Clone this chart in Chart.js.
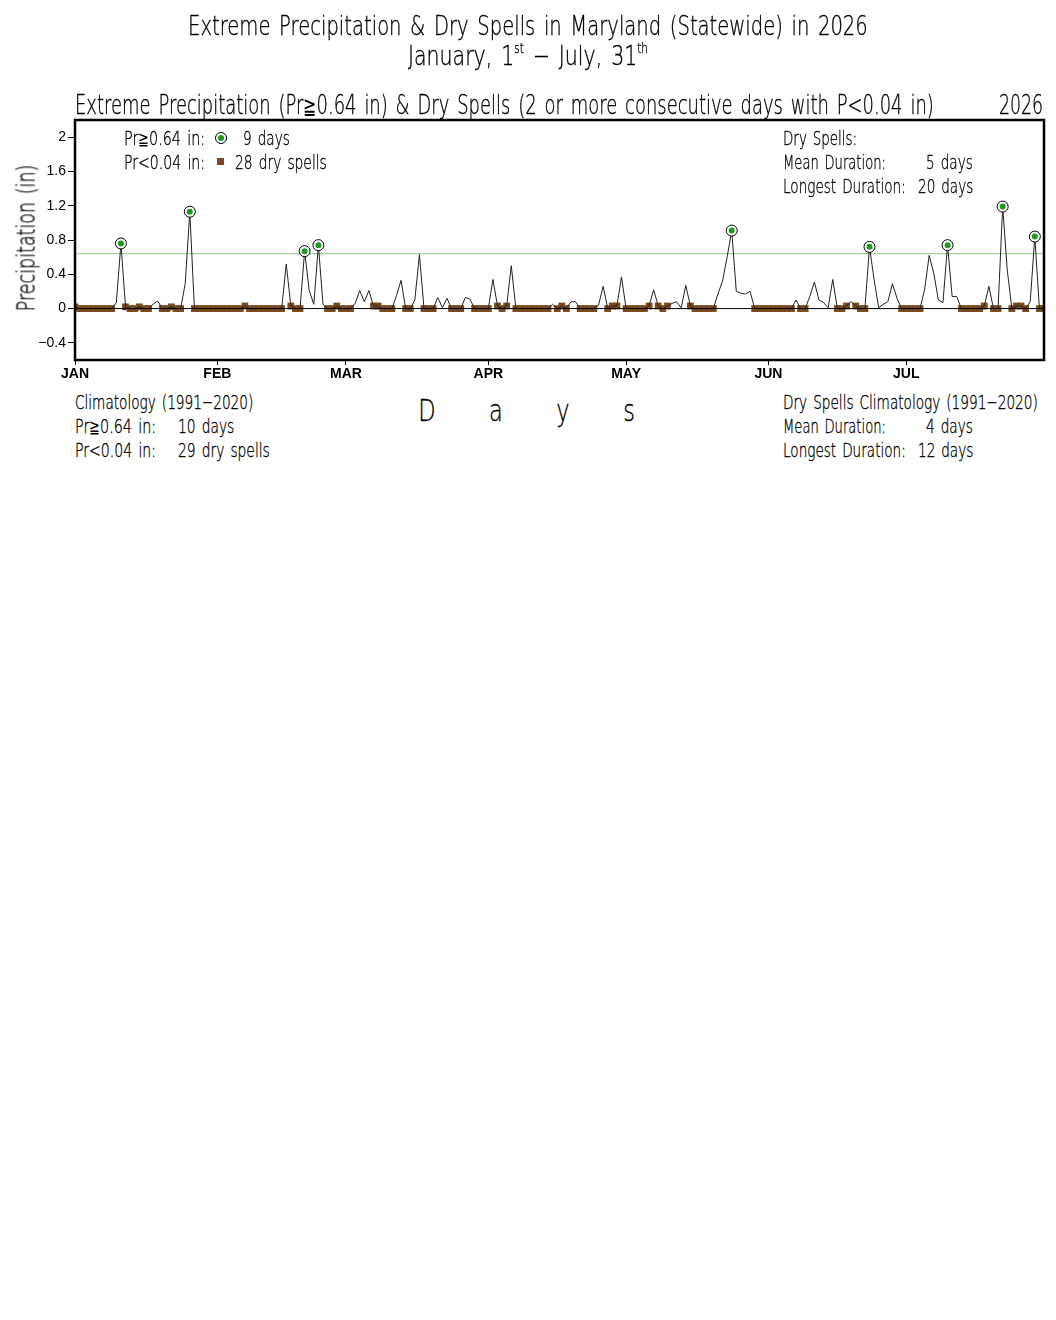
<!DOCTYPE html>
<html>
<head>
<meta charset="utf-8">
<script src="https://cdn.jsdelivr.net/npm/chart.js@4.4.1/dist/chart.umd.min.js"></script>
<style>
  html, body { margin: 0; padding: 0; background: #fff; }
  #page { position: relative; width: 1056px; height: 1320px; overflow: hidden; }
  #box { position: absolute; left: 0; top: 0; width: 1056px; height: 390px; }
  .t { position: absolute; white-space: nowrap; font-family: 'DejaVu Sans', sans-serif; font-weight: 200;
       color: #000; -webkit-text-stroke: 0.35px #000; transform-origin: left center; word-spacing: 0.12em; }
  .t sup { font-size: 0.5em; vertical-align: 0.9em; line-height: 0; }
  .t .ge { font-weight: 200; font-size: 0.9em; -webkit-text-stroke: 0; }
  .mk { position: absolute; box-sizing: border-box; }
</style>
</head>
<body>
<div id="page">
  <div id="box"><canvas id="chart"></canvas></div>
</div>
<script>
// daily statewide precipitation (in), Jan 1 .. Jul 31 2026
var precip = [
  0.02, 0, 0, 0, 0, 0, 0, 0, 0, 0.07,          // Jan 1-10
  0.76, 0.02, 0, 0, 0.02, 0, 0, 0.05, 0.09, 0,  // Jan 11-20
  0, 0.02, 0, 0, 0.29, 1.13, 0, 0, 0, 0,        // Jan 21-30
  0, 0, 0, 0, 0, 0, 0, 0.03, 0, 0,              // Jan 31 - Feb 9
  0, 0, 0, 0, 0, 0, 0.52, 0.03, 0, 0,           // Feb 10-19
  0.67, 0.21, 0.05, 0.74, 0.05, 0, 0, 0.03, 0, 0, // Feb 20 - Mar 1
  0, 0.06, 0.21, 0.08, 0.21, 0.03, 0.03, 0, 0, 0, // Mar 2-11
  0.15, 0.33, 0, 0, 0.1, 0.63, 0, 0, 0, 0.13,   // Mar 12-21
  0.01, 0.12, 0, 0, 0, 0.13, 0.11, 0, 0, 0,     // Mar 22-31
  0, 0.34, 0.03, 0, 0.03, 0.5, 0, 0, 0, 0,      // Apr 1-10
  0, 0, 0, 0, 0.05, 0, 0.03, 0, 0.08, 0.08,     // Apr 11-20
  0, 0, 0, 0, 0.04, 0.26, 0, 0.03, 0.03, 0.37,  // Apr 21-30
  0, 0, 0, 0, 0, 0.03, 0.22, 0.03, 0, 0.03,     // May 1-10
  0.06, 0.08, 0.01, 0.27, 0.03, 0, 0, 0, 0, 0,  // May 11-20
  0.17, 0.32, 0.6, 0.91, 0.2, 0.18, 0.17, 0.2, 0, 0, // May 21-30
  0, 0, 0, 0, 0, 0, 0, 0.1, 0, 0,               // May 31 - Jun 9
  0.14, 0.31, 0.1, 0.07, 0.01, 0.34, 0, 0, 0.03, 0.08, // Jun 10-19
  0.03, 0, 0, 0.72, 0.34, 0.01, 0.05, 0.08, 0.29, 0.12, // Jun 20-29
  0, 0, 0, 0, 0, 0.22, 0.62, 0.41, 0.1, 0.07,   // Jun 30 - Jul 9
  0.74, 0.14, 0.14, 0, 0, 0, 0, 0, 0.03, 0.26,  // Jul 10-19
  0, 0, 1.19, 0.45, 0, 0.03, 0.03, 0, 0.08, 0.84, // Jul 20-29
  0, 0                                          // Jul 30-31
];
var monthStarts = [0, 31, 59, 90, 120, 151, 181];
var monthLabels = ['JAN', 'FEB', 'MAR', 'APR', 'MAY', 'JUN', 'JUL'];
var yTicks = [-0.4, 0, 0.4, 0.8, 1.2, 1.6, 2];
var extremeMin = 0.64;
var dryMax = 0.04;

var brown = '#7a4a1d';
var green = '#1f9a1f';

// points of the daily series
var linePts = precip.map(function (v, i) { return { x: i, y: v }; });
var extremePts = linePts.filter(function (p) { return p.y >= extremeMin; });

// days that belong to a dry spell (2 or more consecutive days below dryMax)
function dryPoints(vals) {
  var out = [];
  var i = 0;
  while (i < vals.length) {
    if (vals[i] < dryMax) {
      var j = i;
      while (j < vals.length && vals[j] < dryMax) j++;
      if (j - i >= 2) {
        for (var k = i; k < j; k++) out.push({ x: k, y: vals[k] });
      }
      i = j;
    } else {
      i++;
    }
  }
  return out;
}
var dryPts = dryPoints(precip);
var lastDay = precip.length - 1;

var framePlugin = {
  id: 'frame',
  afterDraw: function (chart) {
    var a = chart.chartArea, ctx = chart.ctx;
    ctx.save();
    ctx.strokeStyle = '#000';
    ctx.lineWidth = 2.5;
    ctx.strokeRect(a.left, a.top, a.right - a.left, a.bottom - a.top);
    ctx.restore();
  }
};

new Chart(document.getElementById('chart'), {
  type: 'line',
  data: {
    datasets: [
      { data: [{ x: 0, y: extremeMin }, { x: lastDay, y: extremeMin }], borderColor: '#8fc77f',
        borderWidth: 1, pointRadius: 0, order: 5 },
      { data: dryPts, showLine: false, pointStyle: 'rect', pointRadius: 4.8, pointBorderWidth: 0,
        pointBackgroundColor: brown, clip: 0, order: 4 },
      { data: linePts, borderColor: '#222', borderWidth: 1, pointRadius: 0, tension: 0, order: 3 },
      { data: [{ x: 0, y: 0 }, { x: lastDay, y: 0 }], borderColor: '#000', borderWidth: 1,
        pointRadius: 0, order: 2 },
      { data: extremePts, showLine: false, pointRadius: 5.5, pointBorderWidth: 1,
        pointBorderColor: '#000', pointBackgroundColor: '#fff', order: 1 },
      { data: extremePts, showLine: false, pointRadius: 3, pointBorderWidth: 0,
        pointBackgroundColor: green, order: 0 }
    ]
  },
  options: {
    responsive: true,
    maintainAspectRatio: false,
    animation: false,
    layout: { padding: { left: 0, top: 120, right: 12, bottom: 0 } },
    plugins: { legend: { display: false }, tooltip: { enabled: false } },
    scales: {
      x: {
        type: 'linear', min: 0, max: lastDay,
        afterFit: function (s) { s.height = 30; },
        afterBuildTicks: function (s) { s.ticks = monthStarts.map(function (v) { return { value: v }; }); },
        grid: { display: true, drawOnChartArea: false, tickLength: 5, color: '#000' },
        border: { display: false },
        ticks: {
          autoSkip: false, maxRotation: 0, padding: 1, color: '#000',
          font: { family: 'Liberation Sans', size: 14, weight: 'bold' },
          callback: function (v) { return monthLabels[monthStarts.indexOf(v)]; }
        }
      },
      y: {
        min: -0.6, max: 2.2,
        afterFit: function (s) { s.width = 75; },
        afterBuildTicks: function (s) { s.ticks = yTicks.map(function (v) { return { value: v }; }); },
        grid: { display: true, drawOnChartArea: false, tickLength: 7, color: '#000' },
        border: { display: false },
        ticks: {
          padding: 2, color: '#000',
          font: { family: 'Liberation Sans', size: 14 },
          callback: function (v) { return v < 0 ? '\u2212' + Math.abs(v) : String(v); }
        }
      }
    }
  },
  plugins: [framePlugin]
});

var GE = '<span class="ge">\u2267</span>';
// text blocks: [html, left, centerY, fontSize, width]
var texts = [
  ['Extreme Precipitation &amp; Dry Spells in Maryland (Statewide) in 2026', 188, 25, 27, 680],
  ['January, 1<sup>st</sup> \u2212 July, 31<sup>th</sup>', 408, 55, 27, 240],
  ['Extreme Precipitation (Pr' + GE + '0.64 in) &amp; Dry Spells (2 or more consecutive days with P&lt;0.04 in)', 75, 105, 26, 859],
  ['2026', 999, 105, 26, 44],
  ['Pr' + GE + '0.64 in:', 124, 138, 20, 81],
  ['9 days', 243, 138, 20, 47],
  ['Pr&lt;0.04 in:', 124, 162, 20, 81],
  ['28 dry spells', 235, 162, 20, 92],
  ['Dry Spells:', 783, 138, 20, 74],
  ['Mean Duration:', 783, 162, 20, 103],
  ['5 days', 926, 162, 20, 47],
  ['Longest Duration:', 783, 186, 20, 123],
  ['20 days', 918, 186, 20, 55],
  ['Climatology (1991\u22122020)', 75, 402, 20, 178],
  ['Pr' + GE + '0.64 in:', 75, 426, 20, 81],
  ['10 days', 178, 426, 20, 56],
  ['Pr&lt;0.04 in:', 75, 450, 20, 81],
  ['29 dry spells', 178, 450, 20, 92],
  ['Dry Spells Climatology (1991\u22122020)', 783, 402, 20, 255],
  ['Mean Duration:', 783, 426, 20, 103],
  ['4 days', 926, 426, 20, 47],
  ['Longest Duration:', 783, 450, 20, 123],
  ['12 days', 918, 450, 20, 55]
];
var axisLetters = [['D', 427], ['a', 496], ['y', 563], ['s', 629]];

var page = document.getElementById('page');
var fitList = [];

texts.forEach(function (t) {
  var d = document.createElement('div');
  d.className = 't';
  d.innerHTML = t[0];
  d.style.left = t[1] + 'px';
  d.style.top = (t[2] - t[3] / 2) + 'px';
  d.style.fontSize = t[3] + 'px';
  d.style.lineHeight = t[3] + 'px';
  page.appendChild(d);
  fitList.push([d, t[4]]);
});

axisLetters.forEach(function (a) {
  var d = document.createElement('div');
  d.className = 't';
  d.textContent = a[0];
  d.style.left = a[1] + 'px';
  d.style.top = '411px';
  d.style.fontSize = '30px';
  d.style.lineHeight = '30px';
  d.style.transform = 'translate(-50%, -50%) scaleX(0.75)';
  d.style.transformOrigin = 'center center';
  page.appendChild(d);
});

// y axis title
var yt = document.createElement('div');
yt.className = 't';
yt.textContent = 'Precipitation (in)';
yt.style.left = '26px';
yt.style.top = '238px';
yt.style.fontSize = '25px';
yt.style.lineHeight = '25px';
yt.style.transformOrigin = 'center center';
page.appendChild(yt);

// legend markers
function marker(css) {
  var m = document.createElement('div');
  m.className = 'mk';
  for (var k in css) m.style[k] = css[k];
  page.appendChild(m);
}
marker({ left: '215px', top: '132px', width: '12px', height: '12px', borderRadius: '50%',
         border: '1px solid #000', background: '#fff' });
marker({ left: '218px', top: '135px', width: '6px', height: '6px', borderRadius: '50%', background: green });
marker({ left: '217px', top: '158px', width: '7px', height: '7px', background: brown });

function fitAll() {
  fitList.forEach(function (f) {
    var el = f[0];
    el.style.transform = 'none';
    var w = el.scrollWidth;
    el.style.transform = 'scaleX(' + (f[1] / w) + ')';
  });
  yt.style.transform = 'none';
  var yw = yt.scrollWidth;
  yt.style.transform = 'translate(-50%, -50%) rotate(-90deg) scaleX(' + (147 / yw) + ')';
}
fitAll();
if (document.fonts && document.fonts.ready) document.fonts.ready.then(fitAll);
</script>
</body>
</html>
